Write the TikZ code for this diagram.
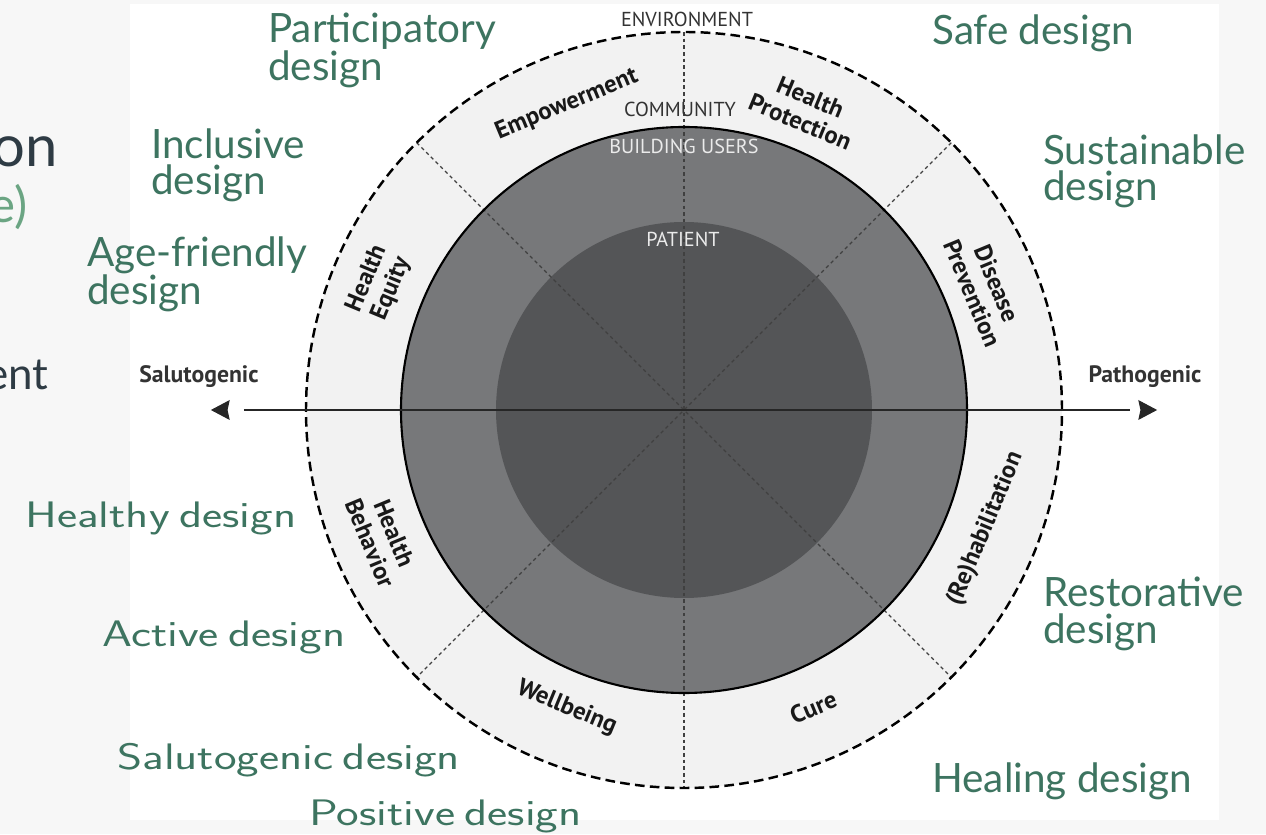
\documentclass[tikz,border=0pt]{standalone}
\usepackage{fontspec}
\usepackage{graphicx}
\setmainfont{Lato}
\newfontfamily\gill{PT Sans}
\definecolor{designgreen}{HTML}{3D7460}
\definecolor{lightgreen}{HTML}{6BA583}
\definecolor{slate}{HTML}{2E3B44}
\definecolor{pagegrey}{HTML}{F7F7F7}
\definecolor{outerfill}{HTML}{F2F2F2}
\definecolor{midfill}{HTML}{77787A}
\definecolor{innerfill}{HTML}{545557}
\newcommand{\widetext}[1]{\scalebox{1.3}[1]{#1}}
\newcommand{\wgap}{\hskip0.2em}
\begin{document}
\begin{tikzpicture}[x=0.02cm,y=0.02cm,
    design/.style={text=designgreen,font=\fontsize{23}{20.5}\selectfont,align=left,anchor=base west,inner sep=0pt},
    cmdesign/.style={design,font=\fontsize{21}{21}\sffamily},
    sector/.style={font=\gill\bfseries\fontsize{14}{15}\selectfont,align=center,text=black!90,inner sep=0pt},
    level/.style={font=\gill\fontsize{11.5}{11.5}\selectfont,anchor=base,inner sep=0pt},
    pole/.style={font=\gill\bfseries\fontsize{13.5}{13.5}\selectfont,text=black!80,anchor=base,inner sep=0pt},
    divider/.style={draw=black!75,line width=0.7pt,dash pattern=on 2pt off 1.8pt},
    axis/.style={line width=1.1pt,draw=black!85},
    arrowhead/.style={fill=black!85,draw=black!85,line width=0.6pt,line join=miter}]
    \useasboundingbox (-684,-424) rectangle (582,410);
    \fill[pagegrey] (-684,-424) rectangle (582,410);
    \fill[white] (-554,-410) rectangle (535,406);

    % rings
    \coordinate (c) at (0,0);
    \fill[outerfill] (c) circle (378);
    \fill[midfill] (c) circle (283);
    \fill[innerfill] (c) circle (188);
    \foreach \a in {45,90,135}
        \draw[divider] (\a:378) -- (\a+180:378);
    \draw[line width=1.2pt] (c) circle (283);
    \draw[line width=1.4pt,dash pattern=on 5.5pt off 3pt] (c) circle (378);

    % axis
    \coordinate (axL) at (-440,0);
    \coordinate (axR) at (446,0);
    \coordinate (tipL) at (-472,0);
    \coordinate (tipR) at (472,0);
    \draw[axis] (axL) -- (axR);
    \filldraw[arrowhead] (tipL) -- ++(17,9) -- ++(-2,-9) -- ++(2,-9) -- cycle;
    \filldraw[arrowhead] (tipR) -- ++(-17,9) -- ++(2,-9) -- ++(-2,-9) -- cycle;
    \node[pole] (salut) at (-485,27) {Salutogenic};
    \node[pole] (patho) at (461,27) {Pathogenic};

    % levels
    \node[level,text=black!80] (env) at (3,383) {ENVIRONMENT};
    \node[level,text=black!80] (comm) at (-4,293) {COMMUNITY};
    \node[level,text=black!8] (users) at (0,256) {BUILDING USERS};
    \node[level,text=black!8] (patient) at (-1,163) {PATIENT};

    % sectors
    \node[sector,rotate=22.5] (empower) at (111:327) {Empowerment};
    \node[sector,rotate=-22.5] (protect) at (68:324) {Health\\Protection};
    \node[sector,rotate=-67.5] (prevent) at (22:324) {Disease\\Prevention};
    \node[sector,rotate=67.5] (rehab) at (-21.5:324) {(Re)habilitation};
    \node[sector,rotate=22.5] (cure) at (-66.5:324) {Cure};
    \node[sector,rotate=-22.5] (wellbeing) at (-111.5:320) {Wellbeing};
    \node[sector,rotate=-67.5] (behavior) at (-157:328) {Health\\Behavior};
    \node[sector,rotate=67.5] (equity) at (157.5:330) {Health\\Equity};

    % design labels
    \node[design] (particip) at (-416,329) {Participatory\\design};
    \node[design] (safe) at (248,365) {Safe design};
    \node[design] (inclus) at (-533,215) {Inclusive\\design};
    \node[design] (sustain) at (359,209) {Sustainable\\design};
    \node[design] (agefr) at (-597,105) {Age-friendly\\design};
    \node[design] (restor) at (359,-233) {Restorative\\design};
    \node[design] (healing) at (248,-382) {Healing design};
    \node[cmdesign] (healthy) at (-659,-118) {\widetext{Healthy\wgap design}};
    \node[cmdesign] (active) at (-582,-236) {\widetext{Active\wgap design}};
    \node[cmdesign] (saludes) at (-567,-359) {\widetext{Salutogenic\wgap design}};
    \node[cmdesign] (positive) at (-375,-415) {\widetext{Positive\wgap design}};

    % cut off slide text
    \node[anchor=base east,inner sep=0pt,text=slate,font=\fontsize{33}{33}\selectfont] (frag1) at (-626,243) {on};
    \node[anchor=base east,inner sep=0pt,text=lightgreen,font=\fontsize{28}{28}\selectfont] (frag2) at (-656,187) {e)};
    \node[anchor=base east,inner sep=0pt,text=slate,font=\fontsize{25}{25}\selectfont] (frag3) at (-635,20) {ent};
\end{tikzpicture}
\end{document}
